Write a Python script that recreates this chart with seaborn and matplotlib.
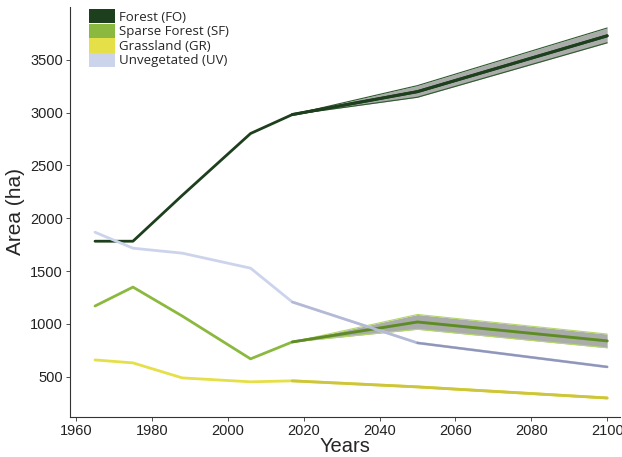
import numpy as np
import pandas as pd
import matplotlib
matplotlib.use("Agg")
import matplotlib.pyplot as plt
import seaborn as sns
from matplotlib.patches import Patch

# Observed and projected land-cover area by year
years = [1965, 1975, 1988, 2006, 2017, 2050, 2100]
forest = [1783, 1783, 2217, 2802, 2981, 3198, 3726]
sparse_forest = [1170, 1349, 1075, 670, 830, 1019, 840]
grassland = [660, 632, 490, 453, 462, 405, 300]
unvegetated = [1868, 1717, 1670, 1528, 1208, 821, 594]

# Projection uncertainty (2017 onwards)
proj_years = [2017, 2050, 2100]
forest_lo = [2981, 3145, 3660]
forest_hi = [2981, 3255, 3800]
sparse_lo = [830, 950, 775]
sparse_hi = [830, 1090, 905]
grass_lo = [462, 400, 294]
grass_hi = [462, 410, 306]

labels = ["Forest (FO)", "Sparse Forest (SF)", "Grassland (GR)", "Unvegetated (UV)"]
colors = ["#1d3f1d", "#8bb93f", "#e5df48", "#ccd4ec"]
edge_colors = ["#2f5a2f", "#b5d86a", "#e8e46a"]

df = pd.DataFrame({
    "Years": years * 4,
    "Area": forest + sparse_forest + grassland + unvegetated,
    "Class": sum([[l] * len(years) for l in labels], []),
})

sns.set_style("ticks")
plt.rcParams["font.family"] = ["Liberation Sans", "DejaVu Sans"]

fig = plt.figure(figsize=(6.22, 4.57), dpi=100)
ax = fig.add_axes([0.1125, 0.0875, 0.885, 0.8975])

bands = [(forest_lo, forest_hi), (sparse_lo, sparse_hi), (grass_lo, grass_hi)]
for (lo, hi), ec in zip(bands, edge_colors):
    ax.fill_between(proj_years, lo, hi, color="#a9aca9", zorder=1, linewidth=0)
    ax.plot(proj_years, lo, color=ec, lw=0.8, zorder=1.5)
    ax.plot(proj_years, hi, color=ec, lw=0.8, zorder=1.5)

sns.lineplot(data=df, x="Years", y="Area", hue="Class", hue_order=labels,
             palette=colors, linewidth=2.0, ax=ax, legend=False, zorder=2)

# Projected segments drawn darker over the uncertainty band
ax.plot(years[4:], forest[4:], color="#1d3f1d", lw=2.2, zorder=3)
ax.plot(years[4:], sparse_forest[4:], color="#5f8a2a", lw=2.0, zorder=3)
ax.plot(years[4:], grassland[4:], color="#cdc63c", lw=2.0, zorder=3)
ax.plot(years[4:6], unvegetated[4:6], color="#b4bad6", lw=1.8, zorder=3)
ax.plot(years[5:], unvegetated[5:], color="#9096b8", lw=1.7, zorder=3)

ax.set_xlim(1958.4, 2103.5)
ax.set_ylim(120, 4000)
ax.set_xticks(range(1960, 2101, 20))
ax.set_yticks(range(500, 3501, 500))
ax.tick_params(labelsize=10.5, length=3, width=0.6, pad=2,
               colors="#333333", labelcolor="#222222")
for sp in ["top", "right"]:
    ax.spines[sp].set_visible(False)
for sp in ["left", "bottom"]:
    ax.spines[sp].set_color("#333333")
    ax.spines[sp].set_linewidth(0.8)

ax.set_xlabel("Years", fontsize=14.5, labelpad=-1)
ax.set_ylabel("Area (ha)", fontsize=15, labelpad=4)

handles = [Patch(facecolor=c, edgecolor="none") for c in colors]
ax.legend(handles, labels, loc="upper left", bbox_to_anchor=(0.034, 0.995),
          frameon=False, handlelength=2.0, handleheight=1.3,
          labelspacing=0, handletextpad=0.3, borderpad=0, borderaxespad=0,
          prop={"family": ["Open Sans", "DejaVu Sans"], "size": 9.5})

fig.savefig("out.png", dpi=100)
